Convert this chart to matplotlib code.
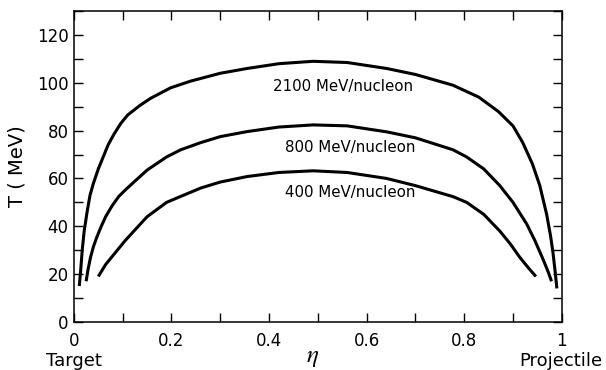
import numpy as np
import matplotlib
matplotlib.use('Agg')
import matplotlib.pyplot as plt
from matplotlib.ticker import MultipleLocator, FixedLocator

# temperature T (MeV) vs rapidity fraction eta, per beam energy
eta_2100 = [0.011, 0.014, 0.017, 0.021, 0.027, 0.033, 0.040, 0.050, 0.060, 0.070, 0.082,
            0.096, 0.110, 0.135, 0.157, 0.198, 0.239, 0.300, 0.355, 0.420, 0.490, 0.560,
            0.641, 0.700, 0.777, 0.830, 0.870, 0.900, 0.920, 0.940, 0.955, 0.969, 0.977,
            0.982, 0.987, 0.990]
T_2100 = [15, 22, 30, 38, 46, 53, 58, 64, 69, 74, 78.5,
          83, 86.5, 90.5, 93.5, 97.9, 100.7, 104, 106, 108, 109, 108.5,
          106, 103.5, 99, 94, 88, 82, 75, 66, 57, 45, 36,
          29, 20, 14]

eta_800 = [0.025, 0.029, 0.034, 0.040, 0.047, 0.055, 0.065, 0.078, 0.092, 0.107, 0.123,
           0.150, 0.190, 0.219, 0.260, 0.300, 0.355, 0.420, 0.490, 0.560, 0.641, 0.700,
           0.777, 0.805, 0.840, 0.873, 0.900, 0.928, 0.945, 0.962, 0.972, 0.979]
T_800 = [17, 22, 27, 31.5, 35.5, 39.5, 44, 48.5, 52.5, 55.5, 58.5,
         63.5, 69, 72, 75, 77.5, 79.6, 81.5, 82.4, 82, 79.5, 77,
         72, 69, 64, 57, 50, 41, 34, 26, 21, 17]

eta_400 = [0.050, 0.065, 0.089, 0.105, 0.123, 0.150, 0.190, 0.219, 0.260, 0.300, 0.355,
           0.420, 0.490, 0.560, 0.641, 0.700, 0.777, 0.805, 0.840, 0.873, 0.895, 0.914,
           0.932, 0.947]
T_400 = [19, 24, 30, 34, 38, 44, 50, 52.5, 56, 58.5, 60.8,
         62.5, 63.2, 62.5, 60, 57, 52.4, 50, 45, 38, 32.5, 27,
         22.5, 19]

curve_labels = ['2100 MeV/nucleon', '800 MeV/nucleon', '400 MeV/nucleon']
label_pos = [(0.552, 98.5), (0.566, 73), (0.566, 54)]

xtick_vals = [0, 0.2, 0.4, 0.6, 0.8, 1.0]
xtick_text = ['0', '0.2', '0.4', '0.6', '0.8', '1']
ytick_vals = [0, 20, 40, 60, 80, 100, 120]

plt.rcParams['font.family'] = ['DejaVu Sans']
plt.rcParams['mathtext.fontset'] = 'stix'

fig = plt.figure(figsize=(6.06, 3.70), dpi=100)
ax = fig.add_axes([0.122, 0.130, 0.805, 0.840])

for xs, ys in [(eta_2100, T_2100), (eta_800, T_800), (eta_400, T_400)]:
    ax.plot(xs, ys, color='black', linewidth=2.2, solid_capstyle='butt', solid_joinstyle='round')

for txt, (x, y) in zip(curve_labels, label_pos):
    ax.text(x, y, txt, ha='center', va='center', fontsize=10.8)

ax.set_xlim(0, 1)
ax.set_ylim(0, 130)

ax.xaxis.set_major_locator(FixedLocator(xtick_vals))
ax.set_xticklabels(xtick_text, fontsize=12)
ax.xaxis.set_minor_locator(MultipleLocator(0.1))
ax.yaxis.set_major_locator(FixedLocator(ytick_vals))
ax.set_yticklabels([str(v) for v in ytick_vals], fontsize=12)
ax.yaxis.set_minor_locator(MultipleLocator(10))

ax.tick_params(which='both', direction='in', length=6.5, width=1.0,
               top=True, right=True, labeltop=False, labelright=False)
ax.tick_params(axis='x', pad=7)
ax.tick_params(axis='y', pad=4)
for s in ax.spines.values():
    s.set_linewidth(1.1)

ax.set_ylabel('T ( MeV)', fontsize=14)
ax.yaxis.set_label_coords(-0.098, 0.5)
fig.text(0.122, 0.012, 'Target', ha='center', va='baseline', fontsize=13)
fig.text(0.926, 0.012, 'Projectile', ha='center', va='baseline', fontsize=13)
fig.text(0.515, 0.022, r'$\eta$', ha='center', va='baseline', fontsize=18)

fig.savefig('out.png', dpi=100, facecolor='white')
